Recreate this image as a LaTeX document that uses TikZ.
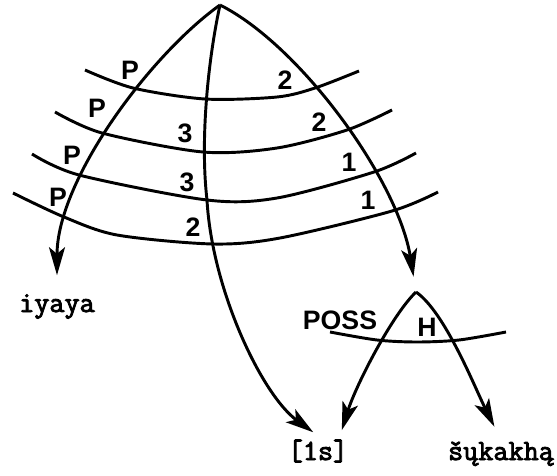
\documentclass[tikz,border=0pt]{standalone}
\usepackage{fontspec}
\setmainfont{Liberation Sans}
\newfontfamily\leaffont[FakeBold=3]{Latin Modern Mono}
\usetikzlibrary{arrows.meta}

\begin{document}
\begin{tikzpicture}[x=0.75pt,y=-0.75pt,line width=2.2pt,
  every node/.style={inner sep=0pt},
  lbl/.style={font=\fontsize{20}{20}\selectfont\bfseries},
  leaf/.style={font=\leaffont\bfseries\fontsize{22}{22}\selectfont,anchor=base,text height=14pt,text depth=4pt},
  arr/.style={-{Stealth[length=21pt,width=12pt,inset=5pt]}}]
  \useasboundingbox (0,0) rectangle (557,475);
  \coordinate (top) at (220,5);
  \coordinate (poss) at (416,292);
  \node[leaf] (iyaya) at (57,312) {iyaya};
  \node[leaf] (ls) at (318,460) {[1s]};
  \node[leaf] (sukakha) at (501,460) {šųkakhą};

  \draw plot[smooth] coordinates {(85,70) (133,88) (205,99) (277,97) (315,88) (359,71)};
  \draw plot[smooth] coordinates {(55,112) (102,133) (203,152) (277,148) (347,130) (392,110)};
  \draw plot[smooth] coordinates {(32,154) (79,175) (207,200) (277,198) (374,172) (416,153)};
  \draw plot[smooth] coordinates {(13,193) (64,217) (117,235) (213,244) (280,238) (392,211) (438,192)};
  \draw plot[smooth] coordinates {(330,332) (377,340) (417,342) (459,340) (506,332)};

  \draw[arr,shorten >=12.5pt] (top) .. controls (150,55) and (57,180) .. (iyaya.north);
  \draw[arr,shorten >=9.7pt] (top) .. controls (208,60) and (200,140) .. (207,200)
    .. controls (212,290) and (262,395) .. (ls.67);
  \draw[arr,shorten >=11.6pt] (top) .. controls (300,45) and (398,180) .. (poss);
  \draw[arr,shorten >=7.7pt] (poss) .. controls (392,315) and (356,385) .. (ls.33);
  \draw[arr,shorten >=11pt] (poss) .. controls (445,312) and (475,388) .. (sukakha.north);

  \foreach \i/\x/\y in {1/130/70, 2/97/108, 3/72/155, 4/58/197}
    \node[lbl] (p\i) at (\x,\y) {P};
  \foreach \i/\x/\y/\t in {1/285/80/2, 2/319/122/2, 3/349/162/1, 4/368/200/1}
    \node[lbl] (r\i) at (\x,\y) {\t};
  \foreach \i/\x/\y/\t in {2/185/133/3, 3/187/182/3, 4/193/227/2}
    \node[lbl] (m\i) at (\x,\y) {\t};
  \node[lbl] (posslbl) at (340,320) {POSS};
  \node[lbl] (hlbl) at (427,327) {H};
\end{tikzpicture}
\end{document}
